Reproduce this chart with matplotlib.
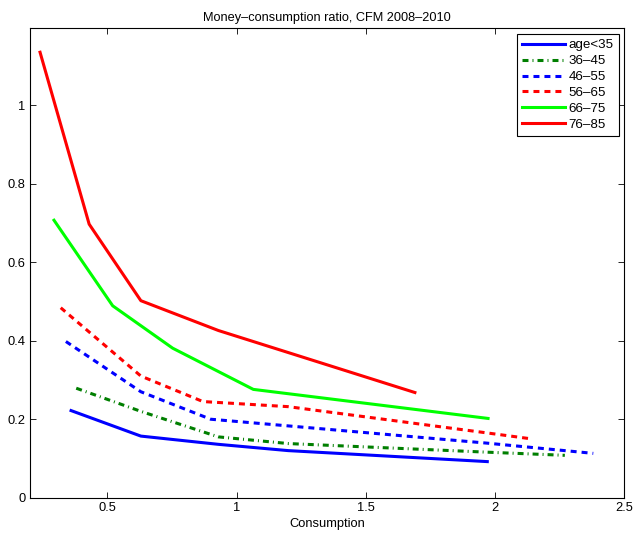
import matplotlib
matplotlib.use("Agg")
import matplotlib.pyplot as plt

plt.rcParams['font.family'] = ['Liberation Sans', 'DejaVu Sans']
plt.rcParams['font.size'] = 9.3
plt.rcParams['lines.scale_dashes'] = False

# data (consumption vs money/consumption ratio)
labels = ['age<35', '36\u201345', '46\u201355', '56\u201365', '66\u201375', '76\u201385']

x_lt35 = [0.36, 0.63, 0.93, 1.20, 1.97]
y_lt35 = [0.222, 0.157, 0.136, 0.120, 0.092]

x_36_45 = [0.38, 0.63, 0.93, 1.20, 1.97, 2.27]
y_36_45 = [0.279, 0.220, 0.155, 0.138, 0.116, 0.108]

x_46_55 = [0.34, 0.63, 0.90, 1.20, 1.97, 2.38]
y_46_55 = [0.398, 0.270, 0.200, 0.183, 0.139, 0.113]

x_56_65 = [0.32, 0.63, 0.87, 1.20, 1.97, 2.14]
y_56_65 = [0.484, 0.310, 0.245, 0.232, 0.165, 0.150]

x_66_75 = [0.294, 0.521, 0.753, 1.065, 1.973]
y_66_75 = [0.707, 0.489, 0.381, 0.276, 0.202]

x_76_85 = [0.24, 0.43, 0.63, 0.93, 1.69]
y_76_85 = [1.135, 0.697, 0.502, 0.426, 0.268]

xs = [x_lt35, x_36_45, x_46_55, x_56_65, x_66_75, x_76_85]
ys = [y_lt35, y_36_45, y_46_55, y_56_65, y_66_75, y_76_85]
colors = ['#0000ff', '#007f00', '#0000ff', '#ff0000', '#00ff00', '#ff0000']
dash = [None, (0, (4.3, 2.9, 0.7, 2.9)), (0, (4.3, 3.6)), (0, (4.3, 3.6)), None, None]

fig = plt.figure(figsize=(6.36, 5.33), dpi=100)
ax = fig.add_axes([0.0467, 0.0662, 0.9349, 0.8807])

for x, y, c, d, lab in zip(xs, ys, colors, dash, labels):
    ls = '-' if d is None else d
    ax.plot(x, y, color=c, linestyle=ls, linewidth=2.2, label=lab)

ax.set_xlim(0.2, 2.5)
ax.set_ylim(0, 1.196)
ax.set_xticks([0.5, 1, 1.5, 2, 2.5])
ax.set_xticklabels(['0.5', '1', '1.5', '2', '2.5'])
ax.set_yticks([0, 0.2, 0.4, 0.6, 0.8, 1])
ax.set_yticklabels(['0', '0.2', '0.4', '0.6', '0.8', '1'])
ax.tick_params(direction='in', top=True, right=True, length=4, width=0.6, pad=3)
for s in ax.spines.values():
    s.set_linewidth(0.8)

ax.set_title('Money\u2013consumption ratio, CFM 2008\u20132010', fontsize=9.2, pad=5)
ax.set_xlabel('Consumption', labelpad=3)

leg = ax.legend(loc='upper right', fontsize=9.6, handlelength=3.2, handletextpad=0.3,
                labelspacing=0.27, borderpad=0.4, fancybox=False, framealpha=1,
                edgecolor='black', borderaxespad=0.4)
leg.get_frame().set_linewidth(0.8)

fig.savefig('out.png', dpi=100)
